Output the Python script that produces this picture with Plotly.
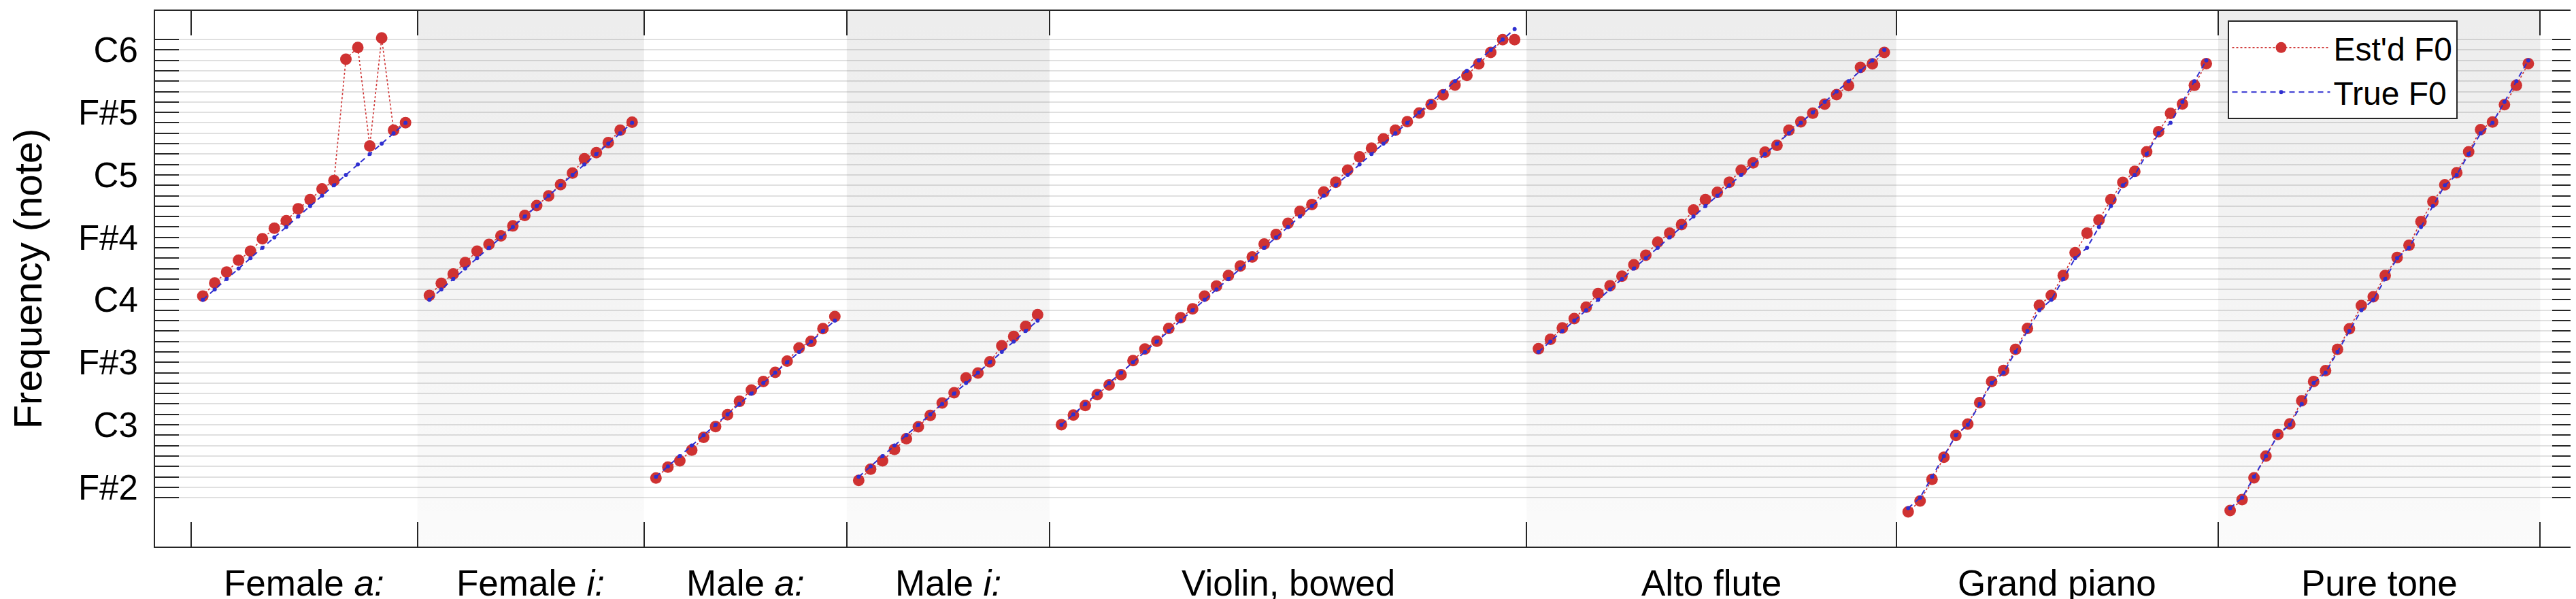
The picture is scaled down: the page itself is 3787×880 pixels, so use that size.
import plotly.graph_objects as go

# group names shown under the x axis
groups = ["Female <i>a:</i>", "Female <i>i:</i>", "Male <i>a:</i>", "Male <i>i:</i>",
          "Violin, bowed", "Alto flute", "Grand piano", "Pure tone"]
shaded = [False, True, False, True, False, True, False, True]

# F0 in semitones (MIDI note number, 60 = C4)
true_female_a = [60, 61, 62, 63, 64, 65, 66, 67, 68, 69, 70, 71, 72, 73, 74, 75, 76, 77]
est_female_a = [60.36, 61.62, 62.67, 63.8, 64.67, 65.86, 66.88, 67.6, 68.75, 69.62,
                70.65, 71.45, 83.11, 84.24, 74.78, 85.15, 76.3, 77.02]

true_female_i = [60, 61, 62, 63, 64, 65, 66, 67, 68, 69, 70, 71, 72, 73, 74, 75, 76, 77]
est_female_i = [60.43, 61.58, 62.49, 63.58, 64.67, 65.32, 66.15, 67.1, 68.1, 69.06,
                69.99, 71.06, 72.17, 73.54, 74.13, 75.1, 76.3, 77.06]

true_male_a = [43, 44, 45, 46, 47, 48, 49, 50, 51, 52, 53, 54, 55, 56, 57, 58]
est_male_a = [42.88, 43.94, 44.53, 45.57, 46.79, 47.83, 48.97, 50.25, 51.34, 52.16,
              53.03, 54.12, 55.38, 56.01, 57.23, 58.4]

true_male_i = [43, 44, 45, 46, 47, 48, 49, 50, 51, 52, 53, 54, 55, 56, 57, 58]
est_male_i = [42.66, 43.73, 44.53, 45.64, 46.66, 47.81, 48.9, 50.1, 51.07, 52.49,
              52.97, 54.05, 55.58, 56.49, 57.45, 58.58]

true_violin = [48, 49, 50, 51, 52, 53, 54, 55, 56, 57, 58, 59, 60, 61, 62, 63, 64, 65, 66, 67,
               68, 69, 70, 71, 72, 73, 74, 75, 76, 77, 78, 79, 80, 81, 82, 83, 84, 85, 86]
est_violin = [48.01, 48.94, 49.85, 50.89, 51.83, 52.81, 54.16, 55.28, 56.03, 57.26,
              58.28, 59.13, 60.36, 61.33, 62.34, 63.25, 64.12, 65.36, 66.27, 67.36,
              68.49, 69.15, 70.36, 71.29, 72.45, 73.73, 74.56, 75.46, 76.29, 77.11,
              77.94, 78.76, 79.69, 80.63, 81.56, 82.66, 83.76, 84.99, 84.99]

true_alto = [55, 56, 57, 58, 59, 60, 61, 62, 63, 64, 65, 66, 67, 68, 69, 70, 71, 72, 73, 74,
             75, 76, 77, 78, 79, 80, 81, 82, 83, 84]
est_alto = [55.3, 56.2, 57.3, 58.2, 59.3, 60.6, 61.36, 62.27, 63.36, 64.28,
            65.54, 66.41, 67.23, 68.62, 69.62, 70.32, 71.3, 72.45, 73.15, 74.19,
            74.84, 76.3, 77.1, 77.93, 78.8, 79.71, 80.58, 82.32, 82.67, 83.76]

true_piano = [40, 41, 43, 45, 47, 48, 50, 52, 53, 55, 57, 59, 60, 62, 64, 65, 67, 69, 71,
              72, 74, 76, 77, 79, 81, 83]
est_piano = [39.64, 40.68, 42.75, 44.88, 46.98, 48.06, 50.12, 52.16, 53.21, 55.24,
             57.25, 59.47, 60.42, 62.34, 64.53, 66.41, 67.67, 69.62, 71.28, 72.33,
             74.21, 76.15, 77.91, 78.81, 80.6, 82.69]

true_pure = [40, 41, 43, 45, 47, 48, 50, 52, 53, 55, 57, 59, 60, 62, 64, 65, 67, 69, 71,
             72, 74, 76, 77, 79, 81, 83]
est_pure = [39.76, 40.81, 42.9, 45.0, 47.07, 48.09, 50.3, 52.16, 53.2, 55.24,
            57.22, 59.44, 60.3, 62.34, 64.06, 65.24, 67.52, 69.43, 71.04, 72.21,
            74.21, 76.34, 77.08, 78.75, 80.6, 82.69]

true_f0 = [true_female_a, true_female_i, true_male_a, true_male_i,
           true_violin, true_alto, true_piano, true_pure]
est_f0 = [est_female_a, est_female_i, est_male_a, est_male_i,
          est_violin, est_alto, est_piano, est_pure]

# y ticks: one per semitone, named every tritone
note_ticks = list(range(41, 86))
note_names = {42: "F#2", 48: "C3", 54: "F#3", 60: "C4", 66: "F#4", 72: "C5", 78: "F#5", 84: "C6"}

Y_RANGE = [36.3, 87.75]
X_RANGE = [-3, 200]
RED = "#cf3232"
BLUE = "#2f2fd0"
AXC = "#262626"
FONT = "Arial, 'Liberation Sans', sans-serif"

# x index: each group sits between two separators
boundaries = [0]
for vals in true_f0:
    boundaries.append(boundaries[-1] + len(vals) + 1)

x_all, est_all, true_all = [], [], []
for k, vals in enumerate(true_f0):
    xs = [boundaries[k] + i + 1 for i in range(len(vals))]
    x_all += xs + [None]
    true_all += vals + [None]
    est_all += est_f0[k] + [None]

fig = go.Figure()

# alternating shaded backgrounds (light vertical gradient)
for k, sh in enumerate(shaded):
    if not sh:
        continue
    x0, x1 = boundaries[k], boundaries[k + 1]
    fig.add_trace(go.Scatter(
        x=[x0, x1, x1, x0, x0],
        y=[Y_RANGE[0], Y_RANGE[0], Y_RANGE[1], Y_RANGE[1], Y_RANGE[0]],
        mode="lines", line=dict(width=0), fill="toself",
        fillgradient=dict(type="vertical",
                          colorscale=[[0, "rgba(0,0,0,0.018)"], [1, "rgba(0,0,0,0.072)"]]),
        showlegend=False, hoverinfo="skip"
    ))

fig.add_trace(go.Scatter(
    x=x_all, y=est_all, name="Est'd F0", mode="lines+markers",
    line=dict(color=RED, width=1.6, dash="dot"),
    marker=dict(color=RED, size=17, line=dict(width=0)),
    connectgaps=False
))
fig.add_trace(go.Scatter(
    x=x_all, y=true_all, name="True F0", mode="lines+markers",
    line=dict(color=BLUE, width=2, dash="8px,6px"),
    marker=dict(color=BLUE, size=6, line=dict(width=0)),
    connectgaps=False
))

# group labels centred between separators
for k, name in enumerate(groups):
    fig.add_annotation(
        x=(boundaries[k] + boundaries[k + 1]) / 2, y=0, xref="x", yref="paper",
        yanchor="top", yshift=-22, text=name, showarrow=False,
        font=dict(family=FONT, size=53, color="black")
    )

fig.update_layout(
    width=3787, height=880, autosize=False,
    margin=dict(l=220, r=6, t=6, b=85),
    paper_bgcolor="white", plot_bgcolor="white",
    font=dict(family=FONT, color="black"),
    showlegend=True,
    legend=dict(
        x=0.856, y=0.982, xanchor="left", yanchor="top",
        bgcolor="white", bordercolor=AXC, borderwidth=2,
        font=dict(family=FONT, size=48, color="black"),
        itemwidth=144, tracegroupgap=0
    ),
    xaxis=dict(
        range=X_RANGE, tickmode="array", tickvals=boundaries, ticktext=[""] * len(boundaries),
        ticks="inside", ticklen=36, tickwidth=2, tickcolor=AXC,
        showline=True, linecolor=AXC, linewidth=2, mirror="ticks",
        showgrid=False, zeroline=False
    ),
    yaxis=dict(
        range=Y_RANGE, tickmode="array", tickvals=note_ticks,
        ticktext=[note_names.get(v, "") for v in note_ticks],
        ticks="inside", ticklen=35, tickwidth=2, tickcolor=AXC,
        showline=True, linecolor=AXC, linewidth=2, mirror="ticks",
        showgrid=True, gridcolor="rgba(0,0,0,0.12)", gridwidth=1.5, zeroline=False,
        tickfont=dict(family=FONT, size=51, color="black"),
        ticklabelstandoff=13,
        title=dict(text="Frequency (note)", font=dict(family=FONT, size=58, color="black"),
                   standoff=56)
    )
)

fig.write_html("out.html")
